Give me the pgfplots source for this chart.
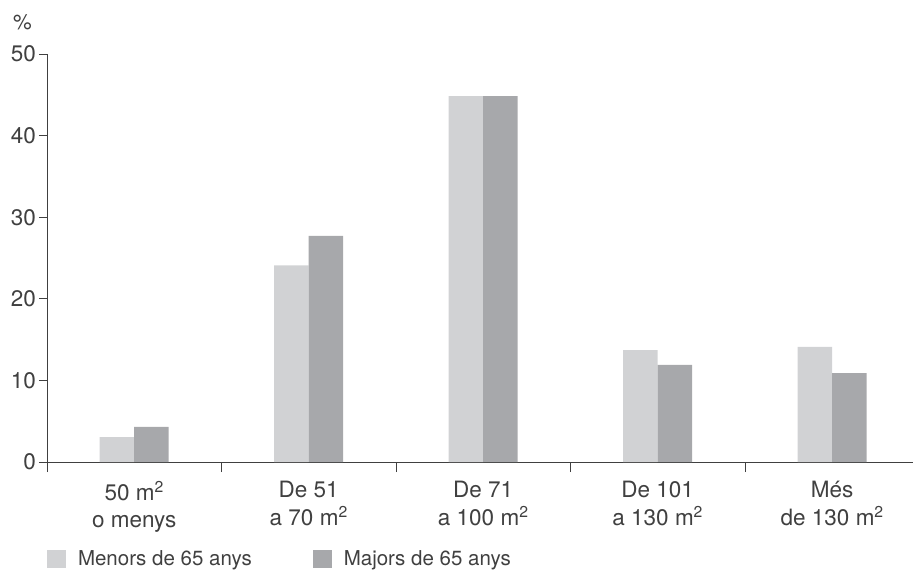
\documentclass[border=0pt]{standalone}
\usepackage{fontspec}
\setmainfont{TeX Gyre Heros}
\usepackage{pgfplots}
\pgfplotsset{compat=1.18}
\definecolor{lightbar}{HTML}{D1D2D4}
\definecolor{darkbar}{HTML}{A7A8AB}
\definecolor{txt}{HTML}{404040}
\begin{document}
\begin{tikzpicture}
\path[use as bounding box] (-47pt,-112pt) rectangle (866pt,462pt);
\begin{axis}[
  at={(0pt,0pt)}, anchor=south west, scale only axis,
  width=866pt, height=408pt,
  xmin=-0.5, xmax=4.463, ymin=0, ymax=50,
  enlargelimits=false, clip=false,
  axis x line*=bottom, axis y line*=left,
  axis line style={txt, line width=0.9pt},
  tick align=outside,
  tick style={txt, line width=0.9pt},
  major tick length=8pt,
  ybar=0pt, bar width=34.5pt,
  ytick={0,10,...,50},
  yticklabel style={inner sep=0pt, xshift=-3pt},
  xtick={0,1,2,3,4},
  xtick style={draw=none},
  xticklabels={{50 m\textsuperscript{2}\\o menys},{De 51\\a 70 m\textsuperscript{2}},{De 71\\a 100 m\textsuperscript{2}},{De 101\\a 130 m\textsuperscript{2}},{Més\\de 130 m\textsuperscript{2}}},
  xticklabel style={align=center, yshift=-8pt},
  extra x ticks={-0.5,0.5,1.5,2.5,3.5},
  extra x tick labels={},
  extra x tick style={major tick length=10pt, xtick style={draw=txt}},
  tick label style={font=\fontsize{22.5}{27.5}\selectfont, text=txt},
  /pgf/number format/assume math mode=true,
  ylabel={\%},
  ylabel style={rotate=-90, at={(axis description cs:-0.0283,1.078)}, anchor=center, font=\fontsize{21}{25}\selectfont, text=txt},
  legend image code/.code={\fill[#1,draw=none] (0pt,-9pt) rectangle (19pt,9pt);},
  legend style={draw=none, fill=none, inner sep=0pt, outer sep=0pt,
    at={(axis description cs:0,-0.2377)}, anchor=west,
    legend columns=2, font=\fontsize{20.5}{24}\selectfont, text=txt,
    /tikz/every odd column/.append style={column sep=10pt},
    /tikz/every even column/.append style={column sep=59pt}},
  legend cell align=left,
]
\addplot[fill=lightbar, draw=none] coordinates {(0,3.06) (1,24.1) (2,44.85) (3,13.7) (4,14.1)};
\addplot[fill=darkbar, draw=none] coordinates {(0,4.29) (1,27.7) (2,44.85) (3,11.9) (4,10.9)};
\legend{Menors de 65 anys, Majors de 65 anys}
\end{axis}
\end{tikzpicture}
\end{document}
